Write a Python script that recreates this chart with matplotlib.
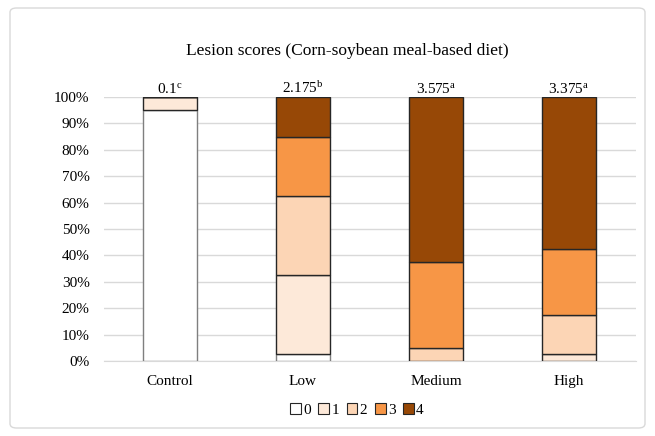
import matplotlib
matplotlib.use("Agg")
import matplotlib.pyplot as plt
from matplotlib.patches import FancyBboxPatch, Patch
import numpy as np

plt.rcParams['font.family'] = ['Liberation Serif', 'DejaVu Serif']
plt.rcParams['mathtext.fontset'] = 'custom'
plt.rcParams['mathtext.rm'] = 'Liberation Serif'
plt.rcParams['mathtext.it'] = 'Liberation Serif'

categories = ["Control", "Low", "Medium", "High"]
score_labels = ["0", "1", "2", "3", "4"]
score0 = [95.0, 2.5, 0.0, 0.0]
score1 = [5.0, 30.0, 0.0, 2.5]
score2 = [0.0, 30.0, 5.0, 15.0]
score3 = [0.0, 22.5, 32.5, 25.0]
score4 = [0.0, 15.0, 62.5, 57.5]
mean_values = ["0.1", "2.175", "3.575", "3.375"]
mean_letters = ["c", "b", "a", "a"]
colors = ["#FFFFFF", "#FDE9D9", "#FCD5B5", "#F79646", "#974806"]
edge_colors = ["#7F7F7F", "#262626", "#262626", "#262626", "#262626"]

fig = plt.figure(figsize=(6.55, 4.36), dpi=100)
fig.patches.append(FancyBboxPatch((10/655, 8/436), 635/655, 420/436,
                                  boxstyle="round,pad=0,rounding_size=0.01",
                                  transform=fig.transFigure, facecolor="white",
                                  edgecolor="#D9D9D9", linewidth=1, zorder=-5))
ax = fig.add_axes([103.5/655, 1-361/436, 532/655, 264/436])
ax.set_facecolor("none")

x = np.arange(len(categories))
series = [score0, score1, score2, score3, score4]
bottom = np.zeros(len(categories))
for vals, c, ec in zip(series, colors, edge_colors):
    v = np.array(vals)
    ax.bar(x, v, 0.41, bottom=bottom, color=c, edgecolor=ec, linewidth=1, zorder=3)
    bottom += v

for xi, (m, l) in enumerate(zip(mean_values, mean_letters)):
    ax.text(xi, 101.6, m + r"$^{\mathrm{" + l + "}}$", ha="center", va="baseline", fontsize=11)

ax.set_xlim(-0.5, 3.5)
ax.set_ylim(0, 100)
ax.set_yticks(np.arange(0, 101, 10))
ax.set_yticklabels([f"{v}%" for v in range(0, 101, 10)], fontsize=11)
ax.set_xticks(x)
ax.set_xticklabels(categories, fontsize=11)
ax.yaxis.grid(True, color="#D9D9D9", linewidth=1, zorder=0)
ax.set_axisbelow(True)
for s in ["top", "right", "left"]:
    ax.spines[s].set_visible(False)
ax.spines["bottom"].set_color("#D9D9D9")
ax.tick_params(axis="y", length=0, pad=10)
ax.tick_params(axis="x", length=0, pad=10)

fig.text(347/655, 1-51/436, "Lesion scores (Corn-soybean meal-based diet)", ha="center", va="center", fontsize=12.5)

handles = [Patch(facecolor=c, edgecolor="#262626", linewidth=0.8) for c in colors]
fig.legend(handles, score_labels, loc="center", bbox_to_anchor=(357/655, 1-410/436), ncol=5,
           frameon=False, fontsize=11, handlelength=0.7, handleheight=0.7,
           handletextpad=0.15, columnspacing=0.5)

fig.savefig("out.png", dpi=100)
